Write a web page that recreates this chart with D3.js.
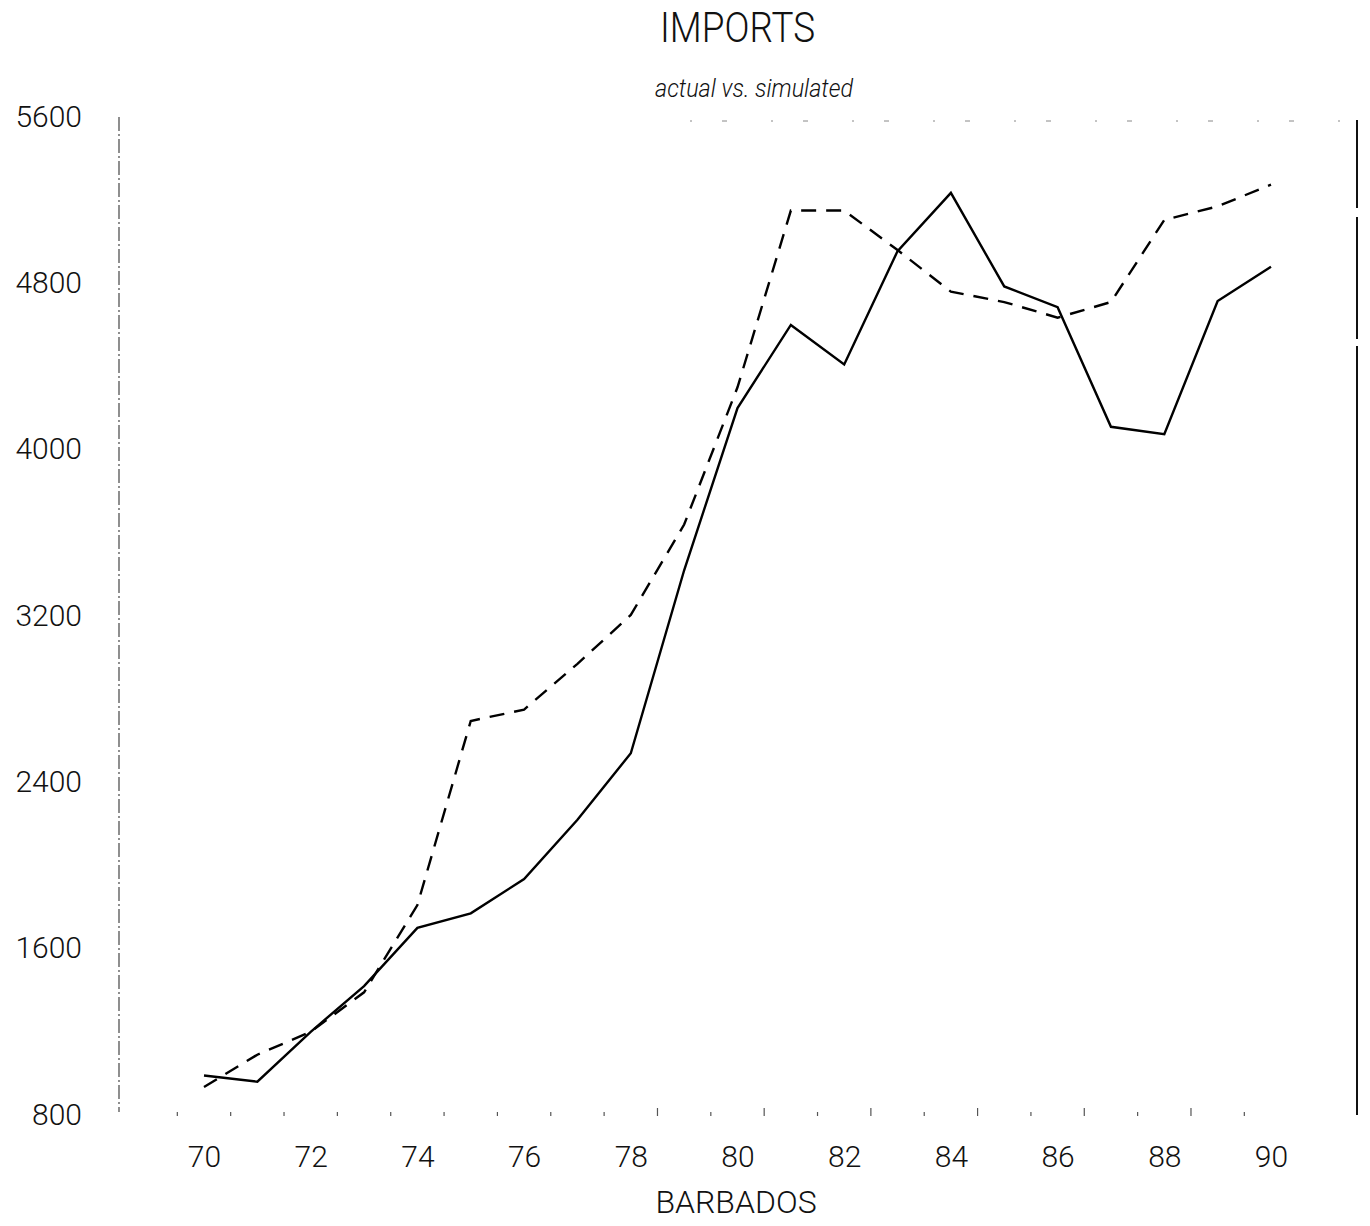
<!DOCTYPE html>
<html>
<head>
<meta charset="utf-8">
<script src="https://cdn.jsdelivr.net/npm/d3@7"></script>
<style>
  html, body { margin: 0; padding: 0; background: #fff; }
  svg text { font-family: "Roboto", "DejaVu Sans", sans-serif; font-weight: 300; fill: #111; }
</style>
</head>
<body>
<svg id="chart" width="1370" height="1226"></svg>
<script>
// Barbados imports, 1970-1990: actual vs. simulated
const years = [70, 71, 72, 73, 74, 75, 76, 77, 78, 79, 80, 81, 82, 83, 84, 85, 86, 87, 88, 89, 90];
const actual = [990, 960, 1200, 1420, 1700, 1770, 1935, 2220, 2540, 3420, 4200, 4600, 4410, 4955, 5235, 4785, 4685, 4110, 4075, 4715, 4880];
const simulated = [935, 1090, 1200, 1390, 1810, 2695, 2750, 2970, 3205, 3640, 4300, 5150, 5150, 4960, 4760, 4710, 4635, 4710, 5105, 5170, 5275];
const yTicks = [800, 1600, 2400, 3200, 4000, 4800, 5600];
const xTicks = [70, 72, 74, 76, 78, 80, 82, 84, 86, 88, 90];
const title = "IMPORTS";
const subtitle = "actual vs. simulated";
const xTitle = "BARBADOS";

const svg = d3.select("#chart");

const x = d3.scaleLinear().domain([70, 90]).range([204, 1271]);
const y = d3.scaleLinear().domain([800, 5600]).range([1115, 117]);

// titles (condensed to the plotter lettering widths)
svg.append("text").attr("x", 660).attr("y", 42)
  .attr("textLength", 155).attr("lengthAdjust", "spacingAndGlyphs")
  .style("font-size", "42px").text(title);
svg.append("text").attr("x", 655).attr("y", 97)
  .attr("textLength", 198).attr("lengthAdjust", "spacingAndGlyphs")
  .style("font-size", "26px").style("font-style", "italic").text(subtitle);
svg.append("text").attr("x", 736).attr("y", 1213).attr("text-anchor", "middle")
  .style("font-size", "32px").text(xTitle);

// left frame line (dash-dot)
svg.append("line").attr("x1", 119).attr("x2", 119).attr("y1", y(5600)).attr("y2", y(800) - 3)
  .attr("stroke", "#333").attr("stroke-width", 1.1).attr("stroke-dasharray", "14,3,2,3");

// right frame line
svg.append("line").attr("x1", 1357).attr("x2", 1357).attr("y1", 120).attr("y2", 1115)
  .attr("stroke", "#111").attr("stroke-width", 2).attr("stroke-dasharray", "88,9,122,7,800");

// top frame line, faint and sparse
svg.append("line").attr("x1", 690).attr("x2", 1357).attr("y1", 121).attr("y2", 121)
  .attr("stroke", "#888").attr("stroke-width", 1).attr("stroke-dasharray", "2,30,5,44");

// y axis labels
const yAxis = d3.axisLeft(y).tickValues(yTicks).tickSize(0).tickFormat(d3.format("d"));
const gy = svg.append("g").call(yAxis);
gy.select(".domain").remove();
gy.selectAll(".tick text")
  .attr("text-anchor", "end")
  .attr("x", 82)
  .attr("dy", "0.3em")
  .style("font-size", "30px").style("font-family", "Roboto, 'DejaVu Sans', sans-serif")
  .style("font-weight", 300).attr("fill", "#111");

// x axis labels
const xAxis = d3.axisBottom(x).tickValues(xTicks).tickSize(0).tickFormat(d3.format("d"));
const gx = svg.append("g").attr("transform", "translate(0,1143)").call(xAxis);
gx.select(".domain").remove();
gx.selectAll(".tick text").attr("dy", "0.71em")
  .style("font-size", "30px").style("font-family", "Roboto, 'DejaVu Sans', sans-serif")
  .style("font-weight", 300).attr("fill", "#111");

// small marks along the bottom edge, between the years
const midYears = d3.range(69.5, 90, 1);
svg.append("g").selectAll("line").data(midYears).join("line")
  .attr("x1", d => x(d)).attr("x2", d => x(d))
  .attr("y1", (d, i) => y(800) - 2 - (i > 8 && i % 2 === 1 ? 5 : 1)).attr("y2", y(800) + 1)
  .attr("stroke", "#555").attr("stroke-width", 1.2);

// series
const line = d3.line().x((d, i) => x(years[i])).y(d => y(d));

svg.append("path").datum(actual).attr("d", line)
  .attr("fill", "none").attr("stroke", "#000").attr("stroke-width", 2.4)
  .attr("stroke-linejoin", "miter");

svg.append("path").datum(simulated).attr("d", line)
  .attr("fill", "none").attr("stroke", "#000").attr("stroke-width", 2.4)
  .attr("stroke-dasharray", "15,10");
</script>
</body>
</html>
